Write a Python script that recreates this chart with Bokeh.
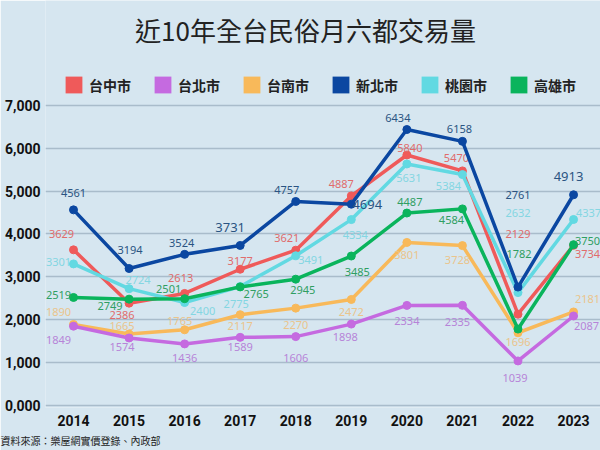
from bokeh.plotting import figure
from bokeh.models import (ColumnDataSource, FixedTicker, Label, Legend, LegendItem, Range1d, Title)
from bokeh.core.properties import value
from bokeh.embed import file_html
from bokeh.resources import INLINE

# ---------------- data ----------------
years = [2014, 2015, 2016, 2017, 2018, 2019, 2020, 2021, 2022, 2023]
x_labels = [str(y) for y in years]

series_names = ["台中市", "台北市", "台南市", "新北市", "桃園市", "高雄市"]

taichung = [3629, 2386, 2613, 3177, 3621, 4887, 5840, 5470, 2129, 3734]
taipei = [1849, 1574, 1436, 1589, 1606, 1898, 2334, 2335, 1039, 2087]
tainan = [1890, 1665, 1765, 2117, 2270, 2472, 3801, 3728, 1696, 2181]
new_taipei = [4561, 3194, 3524, 3731, 4757, 4694, 6434, 6158, 2761, 4913]
taoyuan = [3301, 2724, 2400, 2775, 3491, 4334, 5631, 5384, 2632, 4337]
kaohsiung = [2519, 2480, 2490, 2765, 2945, 3485, 4487, 4584, 1782, 3750]

taichung_labels = ["3629", "2386", "2613", "3177", "3621", "4887", "5840", "5470", "2129", "3734"]
taipei_labels = ["1849", "1574", "1436", "1589", "1606", "1898", "2334", "2335", "1039", "2087"]
tainan_labels = ["1890", "1665", "1765", "2117", "2270", "2472", "3801", "3728", "1696", "2181"]
new_taipei_labels = ["4561", "3194", "3524", "3731", "4757", "4694", "6434", "6158", "2761", "4913"]
taoyuan_labels = ["3301", "2724", "2400", "2775", "3491", "4334", "5631", "5384", "2632", "4337"]
kaohsiung_labels = ["2519", "2749", "2501", "2765", "2945", "3485", "4487", "4584", "1782", "3750"]

y_ticks = [0, 1000, 2000, 3000, 4000, 5000, 6000, 7000]
y_tick_labels = ["0,000", "1,000", "2,000", "3,000", "4,000", "5,000", "6,000", "7,000"]

title_text = "近10年全台民俗月六都交易量"
source_text = "資料來源：樂屋網實價登錄、內政部"

# ---------------- styles ----------------
BG = "#d6e6f0"
CJK = "Noto Sans CJK TC"
AXIS_FONT = "'Noto Sans ExtraCondensed', 'Noto Sans Condensed', Roboto, sans-serif"

line_colors = {
    "台中市": "#ef5a5a", "台北市": "#c56ae0", "台南市": "#f8b95a",
    "新北市": "#0b47a1", "桃園市": "#62d9e2", "高雄市": "#0ab45c",
}
text_colors = {
    "台中市": "#e06c6c", "台北市": "#b684d8", "台南市": "#eac48c",
    "新北市": "#2a5482", "桃園市": "#84d6e2", "高雄市": "#2f9e62",
}
# label offsets in screen pixels (dx, dy; dy positive = down)
offsets = {
    "台中市": ([-12, -7, -4, 0, -9, -10, 3, -6, 0, 14], [-16, 12, -15, -8, -12, -12, -7, -13, -80, 9]),
    "台北市": ([-15, -7, 0, 0, 0, -6, 0, -5, -3, 13], [14, 9, 14, 10, 21, 13, 16, 17, 17, 10]),
    "台南市": ([-15, -7, -5, 0, 0, 0, 0, -5, 0, 14], [-12, -8, -9, 11, 17, 13, 13, 14, 9, -13]),
    "新北市": ([0, 1, -3, -10, -9, 16, -9, -3, 0, -5], [-17, -19, -11, -18, -11, 0, -12, -12, -92, -18]),
    "桃園市": ([-15, 9, 18, -4, 15, 4, 2, -14, 0, 15], [-2, -9, 8, 18, 4, 15, 14, 11, -80, -6]),
    "高雄市": ([-15, -19, -16, 16, 7, 6, 3, -11, 1, 14], [-2, 7, -10, 7, 11, 16, -11, 11, -75, -4]),
}
big = ["13px" if v in ("3731", "4694", "4913") else "11px" for v in new_taipei_labels]
sizes = {n: ["11px"] * 10 for n in series_names}
sizes["新北市"] = big

values = {
    "台中市": (taichung, taichung_labels), "台北市": (taipei, taipei_labels),
    "台南市": (tainan, tainan_labels), "新北市": (new_taipei, new_taipei_labels),
    "桃園市": (taoyuan, taoyuan_labels), "高雄市": (kaohsiung, kaohsiung_labels),
}

# ---------------- figure ----------------
# frame spans the whole top of the canvas so that title/legend sit inside it
p = figure(width=600, height=450, output_backend="svg", toolbar_location=None,
           x_range=Range1d(2013.496, 2023.485), y_range=Range1d(-46.5, 9442),
           min_border_left=45, min_border_right=0, min_border_top=0, min_border_bottom=42)
p.background_fill_color = BG
p.border_fill_color = BG
p.outline_line_color = None

p.xgrid.grid_line_color = None
p.ygrid.grid_line_color = "#a9bccb"
p.ygrid.grid_line_width = 1.5
p.ygrid.ticker = FixedTicker(ticks=y_ticks)

p.yaxis.ticker = FixedTicker(ticks=y_ticks)
p.yaxis.major_label_overrides = dict(zip(y_ticks, y_tick_labels))
p.xaxis.ticker = FixedTicker(ticks=years)
p.xaxis.major_label_overrides = dict(zip(years, x_labels))
for ax in (p.xaxis, p.yaxis):
    ax.axis_line_color = None
    ax.major_tick_line_color = None
    ax.minor_tick_line_color = None
    ax.major_tick_out = 0
    ax.major_tick_in = 0
    ax.minor_tick_out = 0
    ax.minor_tick_in = 0
    ax.major_label_text_font = AXIS_FONT
    ax.major_label_text_font_style = "bold"
    ax.major_label_text_font_size = "14px"
    ax.major_label_text_color = "#111111"
p.yaxis.major_label_standoff = 5
p.xaxis.major_label_standoff = 7

draw_order = ["台南市", "台北市", "台中市", "桃園市", "高雄市", "新北市"]
for name in draw_order:
    vals, labs = values[name]
    src = ColumnDataSource(dict(x=years, y=vals, t=labs,
                                dx=offsets[name][0], dy=offsets[name][1], fs=sizes[name]))
    c = line_colors[name]
    p.line("x", "y", source=src, line_color=c, line_width=3.5)
    p.scatter("x", "y", source=src, size=8, color=c)
    p.text("x", "y", text="t", source=src, x_offset="dx", y_offset="dy",
           text_align="center", text_baseline="middle", text_color=text_colors[name],
           text_font=value("Noto Sans"), text_font_size="fs")

# legend with square swatches (zero-area quads only serve as legend glyphs)
items = []
for name in series_names:
    r = p.quad(left=[years[0]], right=[years[0]], top=[y_ticks[0]], bottom=[y_ticks[0]],
               fill_color=line_colors[name], line_color=None)
    items.append(LegendItem(label=name, renderers=[r]))
legend = Legend(items=items, orientation="horizontal", location=(18, 312),
                background_fill_alpha=0, border_line_color=None,
                glyph_width=21, glyph_height=21, label_standoff=5, spacing=21,
                padding=0, margin=0,
                label_text_font=CJK, label_text_font_style="bold",
                label_text_font_size="14px", label_text_color="#222222")
p.add_layout(legend, "center")

p.add_layout(Label(x=260, y=378, x_units="screen", y_units="screen", text=title_text,
                   text_align="center", text_baseline="middle", text_font=CJK,
                   text_font_size="26px", text_color="#222222"))

footer = Title(text=source_text, align="left", offset=-45, standoff=5,
               text_font=CJK, text_font_size="10px", text_font_style="normal",
               text_color="#222222")
p.add_layout(footer, "below")

open("out.html", "w").write(file_html(p, INLINE))
